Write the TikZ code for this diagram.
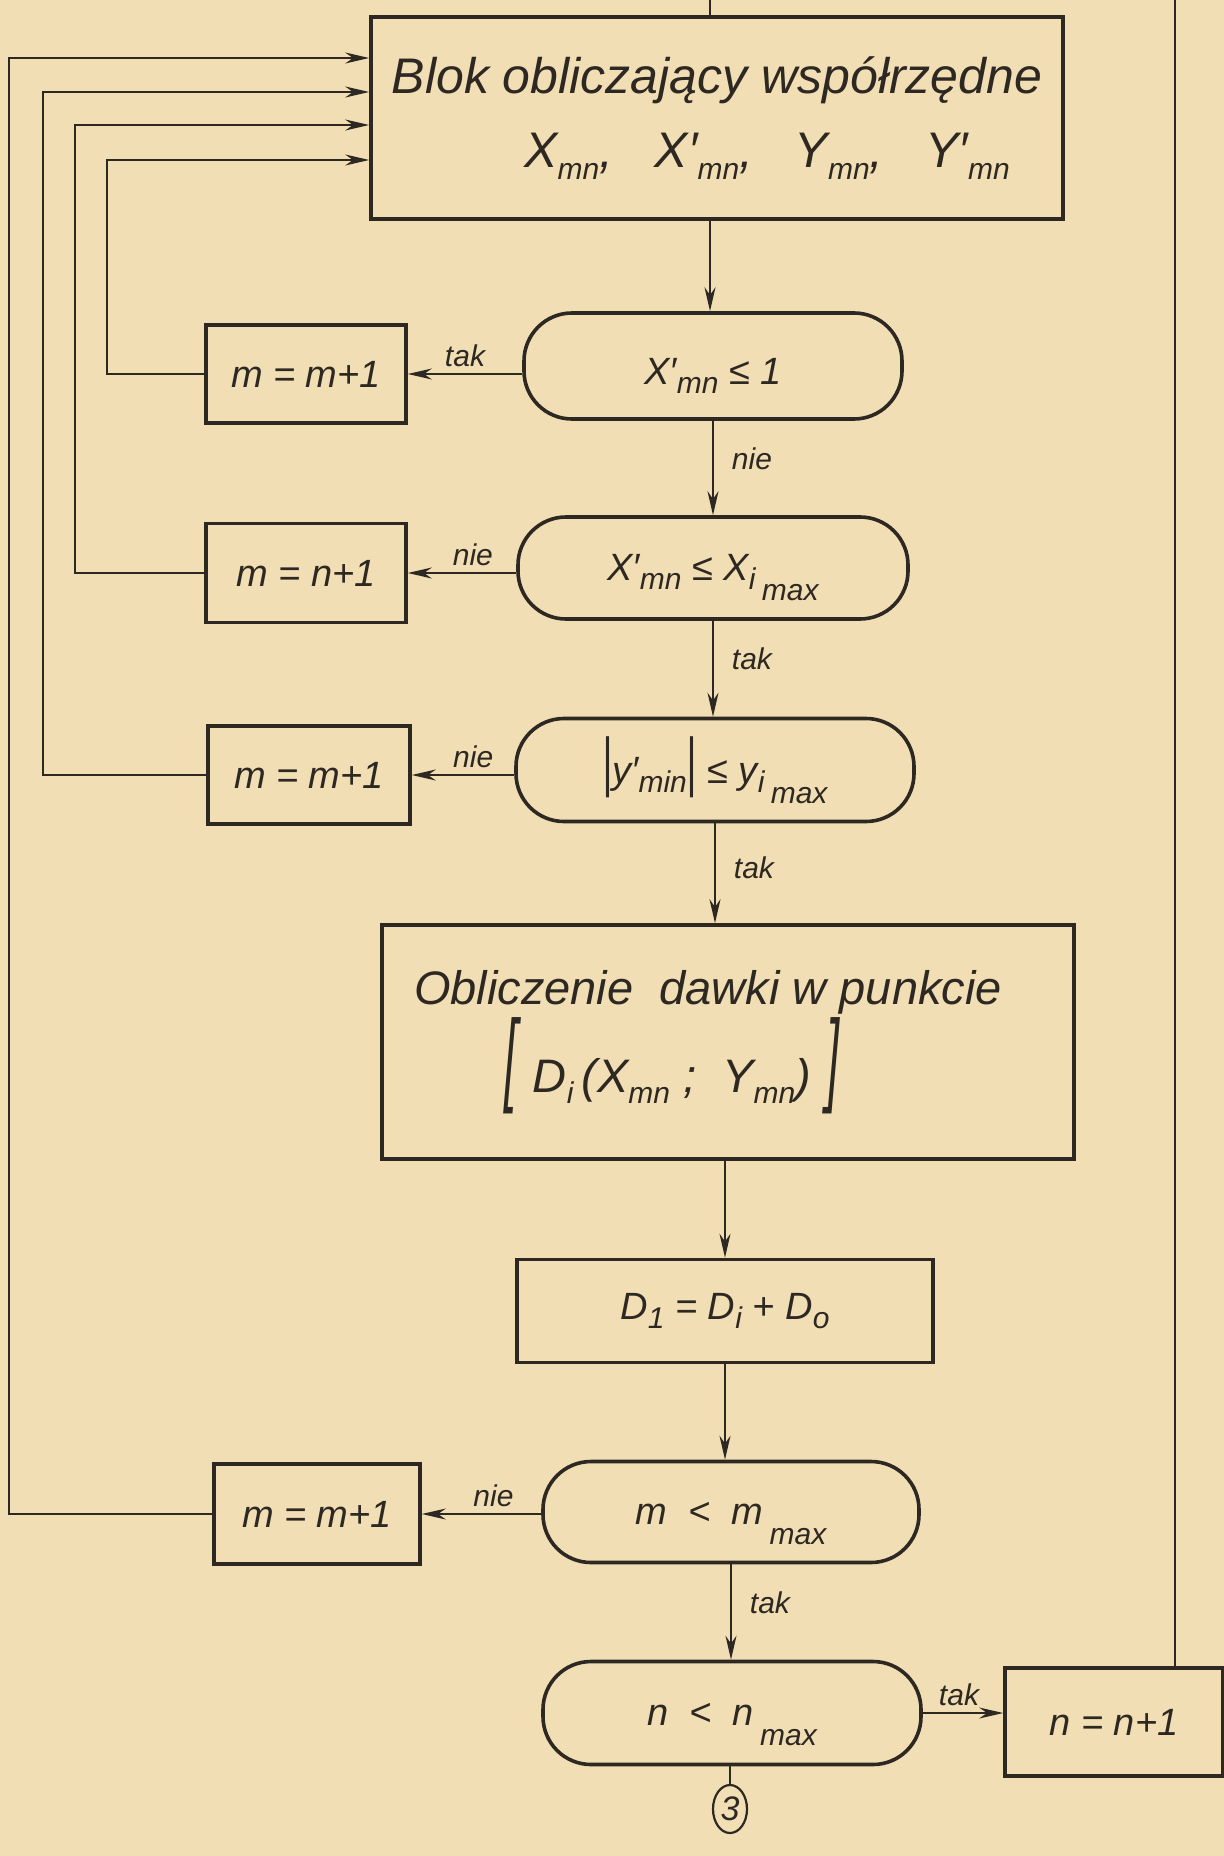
\documentclass[tikz,border=0pt]{standalone}
\usepackage{fontspec}
\setmainfont{Liberation Sans}
\usetikzlibrary{arrows.meta,shapes.geometric,calc}
\definecolor{paper}{RGB}{241,222,180}
\definecolor{ink}{RGB}{45,40,34}
\newcommand{\lo}[1]{\raisebox{-0.45ex}{\fontsize{15}{17}\selectfont #1}}
\newcommand{\llo}[1]{\raisebox{-1.0ex}{\fontsize{15}{17}\selectfont #1}}
\newcommand{\dstrut}{\rule{0pt}{23pt}}
\tikzset{
  proc/.style={draw=ink, line width=1.8pt, rectangle, inner sep=0pt, align=center, text=ink,
    font=\fontsize{19}{22}\selectfont\itshape},
  dec/.style={draw=ink, line width=1.8pt, rectangle, rounded corners=24pt, inner sep=0pt,
    text=ink, font=\fontsize{19}{22}\selectfont\itshape},
  arr/.style={draw=ink, line width=0.9pt, -{Stealth[length=12pt,width=5.5pt]}},
  ln/.style={draw=ink, line width=0.9pt},
  lbl/.style={font=\fontsize{15}{17}\selectfont\itshape, text=ink, inner sep=3pt},
}
\begin{document}
\begin{tikzpicture}[x=0.5pt,y=-0.5pt]
\fill[paper] (0,0) rectangle (1224,1856);
\useasboundingbox (0,0) rectangle (1224,1856);

% main column
\node[proc, minimum width=346pt, minimum height=101pt, font=\fontsize{25}{37}\selectfont\itshape] (blk1) at (717,118)
  {Blok obliczający współrzędne\\ \hspace*{50pt}X\lo{mn},\ \ \ X′\lo{mn},\ \ \ Y\lo{mn},\ \ \ Y′\lo{mn}};
\node[dec, minimum width=189pt, minimum height=53pt] (dec1) at (713,366) {\dstrut X′\lo{mn} ≤ 1};
\node[dec, minimum width=195pt, minimum height=51pt] (dec2) at (713,568) {\dstrut X′\lo{mn} ≤ X\lo{i}\,\llo{max}};
\node[dec, minimum width=199pt, minimum height=51.5pt] (dec3) at (715,770)
  {\dstrut\scalebox{1}[1.7]{|}y′\lo{min}\scalebox{1}[1.7]{|} ≤ y\lo{i}\,\llo{max}};
\node[proc, minimum width=346pt, minimum height=117pt, font=\fontsize{23.5}{44}\selectfont\itshape] (blk2) at (728,1042)
  {\hspace*{-20pt}Obliczenie\ \ dawki\ w\ punkcie\\ \hspace*{-56pt}\scalebox{1}[2.2]{[}\,\,D\lo{i}\,(X\lo{mn}\ ;\ \ Y\lo{mn})\,\,\scalebox{1}[2.2]{]}};
\node[proc, minimum width=208pt, minimum height=51.5pt] (d1) at (725,1311) {D\lo{1} = D\lo{i} + D\lo{o}};
\node[dec, minimum width=188pt, minimum height=50.5pt] (dec4) at (731,1512) {\dstrut m\ \ <\ \ m\,\llo{max}};
\node[dec, minimum width=189pt, minimum height=51.5pt] (dec5) at (732,1713) {\dstrut n\ \ <\ \ n\,\llo{max}};
\node[draw=ink, line width=1.1pt, ellipse, minimum width=17pt, minimum height=24pt, inner sep=0pt,
  text=ink, font=\fontsize{17}{19}\selectfont\itshape] (conn) at (730,1809) {3};

% side boxes
\node[proc, minimum width=100pt, minimum height=49pt] (box1) at (306,374) {m = m+1};
\node[proc, minimum width=100pt, minimum height=49.5pt] (box2) at (306,573) {m = n+1};
\node[proc, minimum width=101pt, minimum height=49pt] (box3) at (309,775) {m = m+1};
\node[proc, minimum width=103pt, minimum height=50pt] (box4) at (317,1514) {m = m+1};
\node[proc, minimum width=109pt, minimum height=54pt] (box5) at (1114,1722) {n = n+1};

% helper coordinates
\coordinate (tin) at (710,0);
\coordinate (rx) at (1175,0);
\coordinate (c1) at (107,160);
\coordinate (c2) at (75,125);
\coordinate (c3) at (43,92);
\coordinate (c4) at (9,58);

% incoming lines
\draw[ln] (tin) -- (tin |- blk1.north);
\draw[ln] (rx |- box5.north) -- (rx);

% main flow
\draw[arr] (blk1.south -| tin) -- (tin |- dec1.north);
\draw[arr] (dec1.south) -- node[lbl, right=6pt, pos=0.4]{nie} (dec2.north);
\draw[arr] (dec2.south) -- node[lbl, right=6pt, pos=0.4]{tak} (dec2.south |- dec3.north);
\draw[arr] (dec3.south) -- node[lbl, right=6pt, pos=0.45]{tak} (dec3.south |- blk2.north);
\draw[arr] (blk2.south -| d1.north) -- (d1.north);
\draw[arr] (d1.south) -- (d1.south |- dec4.north);
\draw[arr] (dec4.south) -- node[lbl, right=6pt, pos=0.4]{tak} (dec4.south |- dec5.north);
\draw[ln] (dec5.south -| conn.north) -- (conn.north);

% side branches
\draw[arr] (dec1.west |- box1.east) -- node[lbl, above, pos=0.5]{tak} (box1.east);
\draw[arr] (dec2.west |- box2.east) -- node[lbl, above, pos=0.4]{nie} (box2.east);
\draw[arr] (dec3.west |- box3.east) -- node[lbl, above, pos=0.4]{nie} (box3.east);
\draw[arr] (dec4.west |- box4.east) -- node[lbl, above, pos=0.4]{nie} (box4.east);
\draw[arr] (dec5.east) -- node[lbl, above, pos=0.45]{tak} (dec5.east -| box5.west);

% feedback loops
\draw[arr] (box1.west) -| (c1) -- (c1 -| blk1.west);
\draw[arr] (box2.west) -| (c2) -- (c2 -| blk1.west);
\draw[arr] (box3.west) -| (c3) -- (c3 -| blk1.west);
\draw[arr] (box4.west) -| (c4) -- (c4 -| blk1.west);
\end{tikzpicture}
\end{document}
